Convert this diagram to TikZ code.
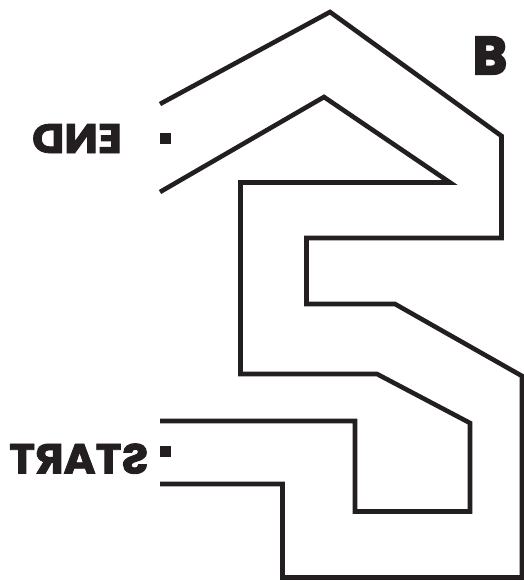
\documentclass[tikz,border=0pt]{standalone}
\usepackage{fontspec}
\usepackage{graphicx}
\setmainfont{Poppins}
\newfontfamily\signfont{Poppins}[BoldFeatures={FakeBold=2}]
\newfontfamily\letterfont{Poppins}[BoldFeatures={FakeBold=4}]
\definecolor{mazeink}{RGB}{35, 31, 32}
\usetikzlibrary{positioning}

\begin{document}
\begin{tikzpicture}[x=1pt, y=-1pt,
    wall/.style={draw=mazeink, line width=4.6pt, line join=miter},
    marker/.style={fill=mazeink, minimum size=11pt, inner sep=0pt},
    sign/.style={text=mazeink, inner sep=0pt, anchor=base, xscale=-1, font=\signfont\bfseries}]
  \useasboundingbox (0, 0) rectangle (524, 581);

  % Upper wall of the maze
  \draw[wall] (160, 104) -- (330, 12) -- (501.5, 136) -- (501.5, 238) -- (306.5, 238)
    -- (306.5, 304) -- (395, 304) -- (522, 376) -- (522, 577.5) -- (282.5, 577.5)
    -- (282.5, 484) -- (160, 484);

  % Lower wall of the maze
  \draw[wall] (160, 192) -- (324, 97) -- (450, 182.5) -- (240.5, 182.5) -- (240.5, 374)
    -- (377, 374) -- (470, 423) -- (470, 511.5) -- (355, 511.5) -- (355, 421) -- (160, 421);

  % Exit and entrance
  \node[marker] (endmark) at (165.5, 138.5) {};
  \node[marker] (startmark) at (165.5, 451.5) {};
  \node[sign] (endlabel) at (77, 153) {\resizebox{90pt}{29pt}{END}};
  \node[sign] (startlabel) at (78.8, 473.5) {\resizebox{139pt}{30pt}{START}};

  % Letter in the corner
  \node[text=mazeink, inner sep=0pt, anchor=base, font=\letterfont\bfseries] (cornerletter) at (490, 74) {\resizebox{34pt}{37pt}{B}};
\end{tikzpicture}
\end{document}
